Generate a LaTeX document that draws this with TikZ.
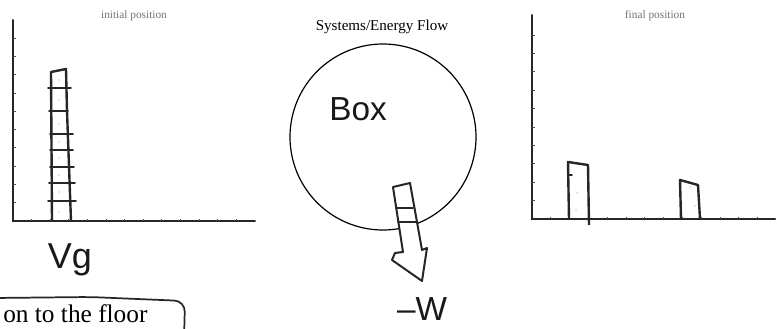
\documentclass[tikz,border=0pt]{standalone}
\usepackage{fontspec}
\setmainfont{Liberation Serif}
\newfontfamily\handfont{Liberation Sans}
\usetikzlibrary{positioning, arrows.meta, calc}

\begin{document}
\begin{tikzpicture}[
  x=0.75pt, y=-0.75pt,
  axis/.style={line width=1.5pt, line cap=round, black!85},
  tick/.style={line width=0.6pt, black!70},
  bar/.style={line width=1.8pt, line join=round, black!85},
  rung/.style={line width=1.4pt, line cap=round, black!85},
  speck/.style={fill=black!45},
  caption/.style={font=\fontsize{8.5}{10}\selectfont, text=black!55},
  hand/.style={font=\handfont\fontsize{25}{28}\selectfont, text=black!90}
]
\useasboundingbox (0,0) rectangle (777,328);

% initial position
\draw[axis] (13,20) -- (13,221) -- (255,221);
\foreach \k in {1,...,10} \draw[tick] (13,221-18.3*\k) -- ++(3,0);
\foreach \k in {1,...,12} \draw[tick] (13+18.6*\k,221) -- ++(0,-2.5);
\node[caption] (initcap) at (134,16) {initial position};
\draw[bar] (52,221) -- (51,72) -- (66,69) -- (67,111) -- (71,221);
\foreach \y/\a/\b in {88/48/71, 111/49/68, 134/50/73, 150/50/73, 167/50/74, 183/49/75, 201/48/76}
  \draw[rung] (\a,\y) -- (\b,\y);
\foreach \y in {80,100,124,142,158,175,192,212}
  \fill[speck] (59,\y) circle (0.7);
\node[hand, font=\handfont\fontsize{27}{30}\selectfont] (vg) at (70,260) {Vg};

% system / energy flow
\node[font=\fontsize{11.3}{13}\selectfont] (flow) at (382,27) {Systems/Energy Flow};
\node[draw, circle, line width=0.9pt, inner sep=0pt, minimum size=139.5pt] (sys) at (383,137) {};
\node[hand] (box) at (358,109) {Box};
\draw[bar, fill=white, line width=1.5pt] (403,252) -- (393,187) -- (410,183) -- (422,250)
  -- (427,248) -- (422,281) -- (392,260) -- (395,253) -- cycle;
\foreach \y/\a/\b in {208/396/413, 222/398/416}
  \draw[rung] (\a,\y) -- (\b,\y);
\node[hand] (work) at (422,309) {–W};

% final position
\draw[axis] (532,15) -- (532,219) -- (775,219);
\foreach \k in {1,...,10} \draw[tick] (532,219-18.4*\k) -- ++(3,0);
\foreach \k in {1,...,12} \draw[tick] (532+18.8*\k,219) -- ++(0,-2.5);
\node[caption] (finalcap) at (655,16) {final position};
\draw[bar] (569,219) -- (568,162) -- (588,165) -- (589,225);
\draw[bar] (681,219) -- (680,180) -- (698,185) -- (700,219);
\draw[rung] (568,175) -- (572,175);
\foreach \p in {(577,193),(576,210),(690,187),(695,206)}
  \fill[speck] \p circle (0.7);

% label at the foot
\draw[line width=1.3pt, black!85, rounded corners=8pt] (-6,298) -- (90,297) -- (185,301) -- (184,340);
\node[anchor=base west, inner sep=0pt, font=\fontsize{19}{22}\selectfont] (floor) at (3,322) {on to the floor};
\end{tikzpicture}
\end{document}
